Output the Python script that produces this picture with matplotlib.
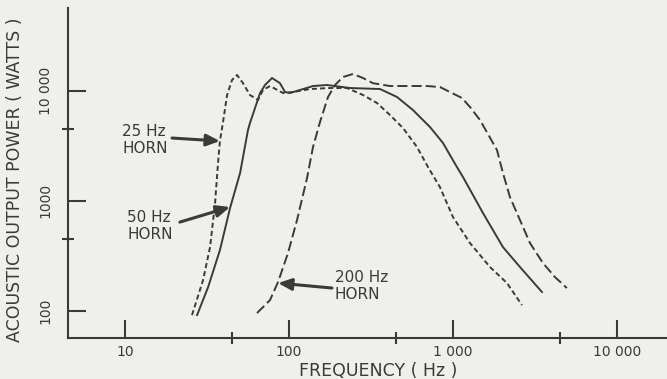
import numpy as np
import matplotlib
matplotlib.use('Agg')
import matplotlib.pyplot as plt
from matplotlib.ticker import FixedLocator, NullFormatter

# values (frequency in Hz, acoustic power in W)
f25 = [25.6, 29.9, 33.0, 35.4, 36.9, 37.9, 39.6, 41.9, 44.9, 48.2, 52.4, 57.8, 64.7,
       69.4, 76.6, 91.9, 105.8, 134.3, 177.8, 225.9, 282.6, 344.1, 412.9, 495.7, 603.3,
       704.0, 833.0, 1000, 1270, 1681, 2135, 2635]
p25 = [91.4, 190, 379, 953, 2200, 3490, 5190, 9140, 12500, 13900, 11700, 9140, 8230,
       10150, 11030, 9530, 9730, 10360, 10580, 10580, 9140, 7730, 6010, 4580, 3080,
       2025, 1330, 711, 412.6, 250, 178.6, 112.6]

f50 = [27.5, 32.1, 37.9, 43.7, 50.3, 56.2, 57.8, 66.6, 71.4, 78.8, 88.1, 94.5, 101.4,
       116.7, 140.1, 170.5, 235.5, 359, 456, 570, 724, 869, 1057, 1151, 1524, 2018,
       2562, 3490]
p50 = [91.4, 164, 356, 859, 1785, 4390, 5080, 9530, 11270, 13040, 11700, 9730, 9530,
       10150, 11030, 11270, 10580, 10360, 8765, 6675, 4677, 3350, 2025, 1642, 773, 379,
       250, 148]

f200 = [63.8, 76.6, 85.7, 98.6, 111.9, 128.8, 140.1, 154.5, 172.9, 190.8, 213.4, 245.5,
        282.6, 325.3, 412.9, 524.3, 694.1, 833, 958.8, 1134, 1270, 1461, 1855, 2018,
        2226, 2562, 2948, 3539, 4188, 4950]
p200 = [95.3, 125.1, 182.4, 334.6, 667.5, 1609, 3080, 5190, 8765, 11270, 13320, 14190,
        13040, 11700, 11030, 11030, 11030, 10800, 9730, 8584, 7108, 5420, 2890, 1785,
        1080, 667.5, 412.6, 271.4, 202.5, 161]

xticks = [10, 100, 1000, 10000]
xticklabels = ['10', '100', '1 000', '10 000']
yticks = [100, 1000, 10000]
yticklabels = ['100', '1000', '10 000']
minor_x = [10 ** 1.65, 10 ** 2.65, 10 ** 3.65]
minor_y = [10 ** 2.65, 10 ** 3.65]

INK = '#3a3a3a'
PAPER = '#efefec'

fig = plt.figure(figsize=(6.67, 3.79), dpi=100, facecolor=PAPER)
ax = fig.add_axes([0.102, 0.108, 0.898, 0.871], facecolor=PAPER)
ax.set_xscale('log')
ax.set_yscale('log')
ax.set_xlim(4.49, 20200)
ax.set_ylim(56.5, 56500)

ax.plot(f25, p25, color=INK, lw=1.4, dashes=(2.6, 1.6))
ax.plot(f50, p50, color=INK, lw=1.4)
ax.plot(f200, p200, color=INK, lw=1.4, dashes=(5.2, 2.1))

for s in ['top', 'right']:
    ax.spines[s].set_visible(False)
for s in ['left', 'bottom']:
    ax.spines[s].set_color(INK)
    ax.spines[s].set_linewidth(1.5)

ax.xaxis.set_major_locator(FixedLocator(xticks))
ax.set_xticklabels(xticklabels)
ax.xaxis.set_minor_locator(FixedLocator(minor_x))
ax.xaxis.set_minor_formatter(NullFormatter())
ax.yaxis.set_major_locator(FixedLocator(yticks))
ax.set_yticklabels(yticklabels, rotation=90, va='center')
ax.yaxis.set_minor_locator(FixedLocator(minor_y))
ax.yaxis.set_minor_formatter(NullFormatter())

ax.tick_params(which='major', direction='in', length=13, width=1.5, color=INK,
               labelcolor=INK, labelsize=10)
ax.tick_params(which='minor', direction='inout', length=8, width=1.5, color=INK)
ax.tick_params(axis='x', which='major', pad=5)
ax.tick_params(axis='y', which='major', pad=11)

fig.text(0.022, 0.527, 'ACOUSTIC OUTPUT POWER ( WATTS )', rotation=90,
         ha='center', va='center', fontsize=12.5, color=INK)
fig.text(0.567, 0.021, 'FREQUENCY ( Hz )', ha='center', va='center',
         fontsize=12.5, color=INK)

arrow = dict(arrowstyle='-|>,head_length=0.8,head_width=0.35', lw=2.2, color=INK,
             shrinkA=0, shrinkB=0)
ax.annotate('', xy=(37.9, 3490), xytext=(19.35, 3715), arrowprops=arrow)
ax.annotate('', xy=(43.7, 877), xytext=(21.6, 640), arrowprops=arrow)
ax.annotate('', xy=(85.7, 178.6), xytext=(182.8, 161), arrowprops=arrow)

lab = dict(ha='left', va='center', fontsize=11, color=INK, linespacing=1.15)
ax.text(9.59, 3565, '25 Hz\nHORN', **lab)
ax.text(10.3, 589, '50 Hz\nHORN', **lab)
ax.text(190.6, 167.7, '200 Hz\nHORN', **lab)

fig.savefig('out.png', dpi=100, facecolor=PAPER)
